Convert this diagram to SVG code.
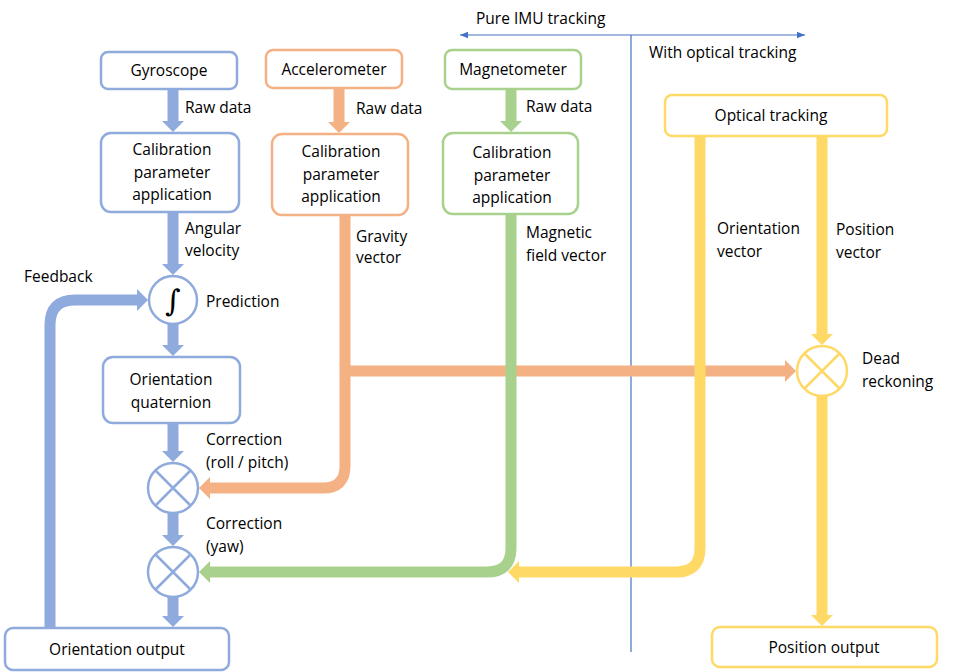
<svg xmlns="http://www.w3.org/2000/svg" width="975" height="672" viewBox="0 0 975 672">
<style>
text{font-family:"Open Sans","Liberation Sans",sans-serif;font-size:15.5px;fill:#000}
.box{fill:#fff;stroke-width:2.5}
.b{stroke:#8faadc}.o{stroke:#f4b183}.g{stroke:#a9d18e}.y{stroke:#ffd966}
.ln{fill:none;stroke-width:11}
.c{text-anchor:middle}
</style>
<defs>
<marker id="mb" viewBox="0 -1 1 2" markerWidth="1" markerHeight="2" refX="0" refY="0" orient="auto"><path d="M0,-1L1,0L0,1z" fill="#8faadc"/></marker>
<marker id="mo" viewBox="0 -1 1 2" markerWidth="1" markerHeight="2" refX="0" refY="0" orient="auto"><path d="M0,-1L1,0L0,1z" fill="#f4b183"/></marker>
<marker id="mg" viewBox="0 -1 1 2" markerWidth="1" markerHeight="2" refX="0" refY="0" orient="auto"><path d="M0,-1L1,0L0,1z" fill="#a9d18e"/></marker>
<marker id="my" viewBox="0 -1 1 2" markerWidth="1" markerHeight="2" refX="0" refY="0" orient="auto"><path d="M0,-1L1,0L0,1z" fill="#ffd966"/></marker>
<marker id="ma" viewBox="0 0 10 10" markerWidth="8" markerHeight="8" refX="10" refY="5" orient="auto-start-reverse" markerUnits="userSpaceOnUse"><path d="M0,1L10,5L0,9z" fill="#4472c4"/></marker>
</defs>
<g id="connectors">
<line x1="460" y1="35" x2="805" y2="35" stroke="#4472c4" stroke-width="1.2" marker-start="url(#ma)" marker-end="url(#ma)"/>
<line x1="631" y1="35" x2="631" y2="652" stroke="#4472c4" stroke-width="1.2"/>
<g class="ln b">
<path d="M173,89V121" marker-end="url(#mb)"/>
<path d="M173,212V264" marker-end="url(#mb)"/>
<path d="M173,324V345" marker-end="url(#mb)"/>
<path d="M173,423V451" marker-end="url(#mb)"/>
<path d="M173,513V535" marker-end="url(#mb)"/>
<path d="M173,597V616" marker-end="url(#mb)"/>
<path d="M50,628V325Q50,300 75,300H137" marker-end="url(#mb)"/>
</g>
<g class="ln o">
<path d="M339,88V122" marker-end="url(#mo)"/>
<path d="M345,215V466Q345,488 323,488H210" marker-end="url(#mo)"/>
<path d="M345,371H785" marker-end="url(#mo)"/>
</g>
<g class="ln g">
<path d="M511,89V121" marker-end="url(#mg)"/>
<path d="M511,214V548Q511,572 487,572H210" marker-end="url(#mg)"/>
</g>
<g class="ln y">
<path d="M700,136V548Q700,572 676,572H519" marker-end="url(#my)"/>
<path d="M822,136V334" marker-end="url(#my)"/>
<path d="M822,396V615" marker-end="url(#my)"/>
</g>
</g>
<g id="gyro"><rect class="box b" x="101" y="52" width="136" height="37" rx="7"/><text class="c" x="169" y="76">Gyroscope</text></g>
<g id="accel"><rect class="box o" x="266" y="50" width="136" height="38" rx="7"/><text class="c" x="334" y="75">Accelerometer</text></g>
<g id="magn"><rect class="box g" x="445" y="50" width="136" height="39" rx="7"/><text class="c" x="513" y="75">Magnetometer</text></g>
<g id="optical"><rect class="box y" x="665" y="95" width="222" height="41" rx="7"/><text class="c" x="771" y="121">Optical tracking</text></g>
<g id="calib-gyro"><rect class="box b" x="101" y="133" width="138" height="79" rx="10"/><text class="c" x="172" y="155">Calibration</text><text class="c" x="172" y="178">parameter</text><text class="c" x="172" y="200">application</text></g>
<g id="calib-accel"><rect class="box o" x="272" y="134" width="136" height="81" rx="10"/><text class="c" x="341" y="157">Calibration</text><text class="c" x="341" y="180">parameter</text><text class="c" x="341" y="202">application</text></g>
<g id="calib-magn"><rect class="box g" x="443" y="133" width="135" height="81" rx="10"/><text class="c" x="512" y="158">Calibration</text><text class="c" x="512" y="181">parameter</text><text class="c" x="512" y="203">application</text></g>
<g id="prediction"><circle class="box b" cx="173" cy="300" r="24"/><text x="173" y="311" class="c" style="font-family:'DejaVu Serif',serif;font-style:italic;font-size:30px">∫</text></g>
<g id="quaternion"><rect class="box b" x="103" y="357" width="137" height="66" rx="10"/><text class="c" x="171" y="385">Orientation</text><text class="c" x="171" y="408">quaternion</text></g>
<g id="corr1"><circle class="box b" cx="173" cy="488" r="25"/><path d="M155,470L191,506M191,470L155,506" stroke="#8faadc" stroke-width="2.5"/></g>
<g id="corr2"><circle class="box b" cx="173" cy="572" r="25"/><path d="M155,554L191,590M191,554L155,590" stroke="#8faadc" stroke-width="2.5"/></g>
<g id="output"><rect class="box b" x="5" y="628" width="224" height="42" rx="8"/><text class="c" x="117" y="655">Orientation output</text></g>
<g id="dead"><circle class="box y" cx="822" cy="371" r="25"/><path d="M804,353L840,389M840,353L804,389" stroke="#ffd966" stroke-width="2.5"/></g>
<g id="posout"><rect class="box y" x="712" y="627" width="225" height="40" rx="8"/><text class="c" x="824" y="653">Position output</text></g>
<g id="labels">
<text x="476" y="24">Pure IMU tracking</text>
<text x="649" y="58">With optical tracking</text>
<text x="185" y="113">Raw data</text>
<text x="356" y="114">Raw data</text>
<text x="526" y="112">Raw data</text>
<text x="185" y="234">Angular</text><text x="185" y="256">velocity</text>
<text x="24" y="282">Feedback</text>
<text x="206" y="307">Prediction</text>
<text x="356" y="242">Gravity</text><text x="356" y="263">vector</text>
<text x="526" y="238">Magnetic</text><text x="526" y="261">field vector</text>
<text x="717" y="234">Orientation</text><text x="717" y="257">vector</text>
<text x="836" y="235">Position</text><text x="836" y="258">vector</text>
<text x="862" y="364">Dead</text><text x="862" y="387">reckoning</text>
<text x="206" y="445">Correction</text><text x="206" y="468">(roll / pitch)</text>
<text x="206" y="529">Correction</text><text x="206" y="552">(yaw)</text>
</g>
</svg>
